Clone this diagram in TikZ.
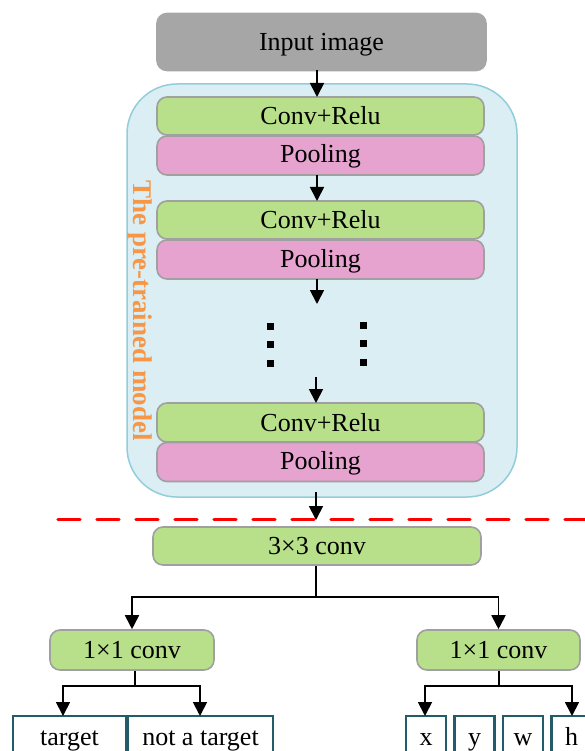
\documentclass[tikz,border=0pt]{standalone}
\usepackage{fontspec}
\setmainfont{Liberation Serif}
\usetikzlibrary{arrows.meta,calc}
\definecolor{inputgray}{HTML}{A6A6A6}
\definecolor{convgreen}{HTML}{B8DF89}
\definecolor{poolpink}{HTML}{E6A3CF}
\definecolor{edgegray}{HTML}{A0A0A0}
\definecolor{contfill}{HTML}{DAEEF3}
\definecolor{contedge}{HTML}{92CDDC}
\definecolor{lbl}{HTML}{F79646}
\definecolor{outedge}{HTML}{245B68}
\begin{document}
\begin{tikzpicture}[x=1pt,y=-1pt,
  font=\fontsize{26}{30}\selectfont,
  base/.style={inner sep=0pt, rounded corners=10pt, line width=1.6pt},
  inbox/.style={base, fill=inputgray, draw=inputgray, minimum width=329pt, minimum height=57pt, text height=20pt, text depth=2.6pt},
  convbox/.style={base, fill=convgreen, draw=edgegray},
  poolbox/.style={base, fill=poolpink, draw=edgegray, text height=18pt, text depth=3pt},
  container/.style={inner sep=0pt, rounded corners=50pt, fill=contfill, draw=contedge, line width=1.5pt, minimum width=390pt, minimum height=413pt},
  outbox/.style={inner sep=0pt, draw=outedge, fill=white, line width=2.8pt, text height=18pt, text depth=6pt},
  arr/.style={line width=1.8pt, -{Triangle[length=14pt,width=14pt]}},
  conn/.style={line width=1.8pt},
  dotsq/.style={fill=black, inner sep=0pt, minimum size=7pt},
  sepline/.style={red, line width=3.3pt, line cap=round, dash pattern=on 22pt off 17pt}
]
\useasboundingbox (0,0) rectangle (585,751);
\clip (0,0) rectangle (585,751);

% input
\node[inbox] (input) at (321.5,42) {Input image};

% container
\node[container] (cont) at (322,290.5) {};
\node[rotate=-90, text=lbl, font=\fontsize{27}{30}\selectfont\bfseries] (lab) at (140,310.5) {The pre-trained model};

% stacks
\node[convbox, minimum width=327pt, minimum height=38pt] (c1) at (320.5,116) {Conv+Relu};
\node[poolbox, minimum width=327pt, minimum height=39pt] (p1) at (320.5,155.5) {Pooling};
\node[convbox, minimum width=327pt, minimum height=38pt] (c2) at (320.5,220) {Conv+Relu};
\node[poolbox, minimum width=327pt, minimum height=39pt] (p2) at (320.5,259.5) {Pooling};
\node[convbox, minimum width=327pt, minimum height=39pt] (c3) at (320.5,422.5) {Conv+Relu};
\node[poolbox, minimum width=327pt, minimum height=39pt] (p3) at (320.5,462) {Pooling};

% dots
\node[dotsq] (dl1) at (270,326) {};
\node[dotsq] (dl2) at (270,344.5) {};
\node[dotsq] (dl3) at (270,363) {};
\node[dotsq] (dr1) at (363,325) {};
\node[dotsq] (dr2) at (363,343.5) {};
\node[dotsq] (dr3) at (363,362) {};

% arrows in upper part
\coordinate (a0s) at (317,70);
\coordinate (a0e) at (317,97);
\coordinate (a1s) at (317,175);
\coordinate (a1e) at (317,201);
\coordinate (a2s) at (317,279);
\coordinate (a2e) at (317,304);
\coordinate (a3s) at (316,377);
\coordinate (a3e) at (316,403);
\coordinate (a4s) at (316,492);
\coordinate (a4e) at (316,520);
\draw[arr] (a0s) -- (a0e);
\draw[arr] (a1s) -- (a1e);
\draw[arr] (a2s) -- (a2e);
\draw[arr] (a3s) -- (a3e);

% separator
\coordinate (sl) at (58,519.5);
\coordinate (sr) at (600,519.5);
\draw[sepline] (sl) -- (sr);
\draw[arr] (a4s) -- (a4e);

% lower part
\node[convbox, minimum width=328pt, minimum height=38pt] (k3) at (317,546) {3×3 conv};
\node[convbox, minimum width=164pt, minimum height=40pt] (l1) at (132,650) {1×1 conv};
\node[convbox, minimum width=163pt, minimum height=40pt] (r1) at (498.5,650) {1×1 conv};

\coordinate (j0) at (316,597);
\draw[conn] (k3.south -| j0) -- (j0);
\draw[arr] (j0) -| (l1.north);
\draw[arr] (j0) -| (r1.north);

% outputs
\node[outbox, minimum width=113pt, minimum height=46pt] (tg) at (69.5,739) {target};
\node[outbox, minimum width=145pt, minimum height=46pt] (nt) at (200.5,739) {not a target};
\node[outbox, minimum width=40pt, minimum height=46pt] (ox) at (426,739) {x};
\node[outbox, minimum width=40pt, minimum height=46pt] (oy) at (474.5,739) {y};
\node[outbox, minimum width=40pt, minimum height=46pt] (ow) at (523,739) {w};
\node[outbox, minimum width=40pt, minimum height=46pt] (oh) at (571.5,739) {h};

\coordinate (jl) at (135,686);
\coordinate (tga) at (63,716);
\coordinate (nta) at (200,716);
\draw[conn] (l1.south -| jl) -- (jl);
\draw[arr] (jl) -| (tga);
\draw[arr] (jl) -| (nta);

\coordinate (jr) at (499,686);
\coordinate (oxa) at (425,716);
\coordinate (oha) at (572,716);
\draw[conn] (r1.south -| jr) -- (jr);
\draw[arr] (jr) -| (oxa);
\draw[arr] (jr) -| (oha);
\end{tikzpicture}
\end{document}
